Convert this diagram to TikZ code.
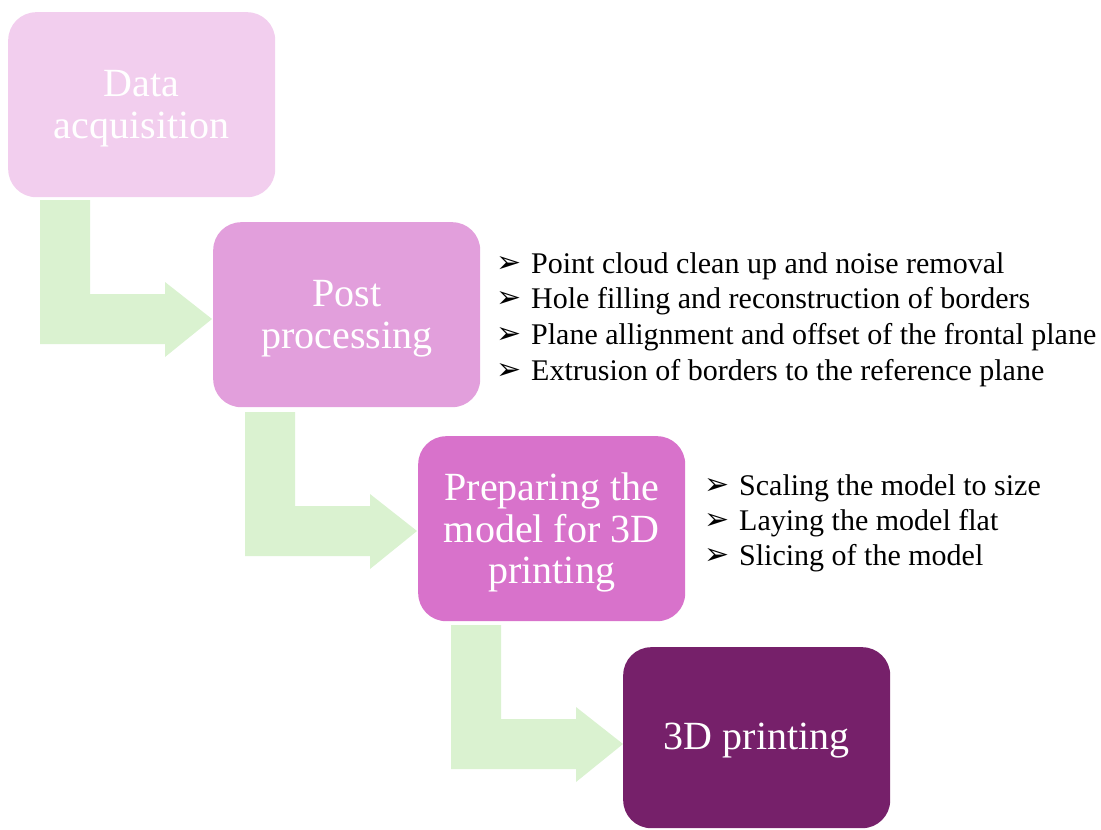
\documentclass[tikz,border=0pt]{standalone}
\usepackage{fontspec}
\setmainfont{Liberation Serif}
\newfontfamily\symfont{DejaVu Sans}
\definecolor{cA}{HTML}{F2CEEE}
\definecolor{cB}{HTML}{E29FDC}
\definecolor{cC}{HTML}{D872CB}
\definecolor{cD}{HTML}{76206A}
\definecolor{cArr}{HTML}{DAF2D0}
\newcommand{\bulmark}{\makebox[35pt][l]{\raisebox{1pt}{\symfont\fontsize{30}{30}\selectfont ➢}}}
\tikzset{
  stagebox/.style={rounded corners=28pt, minimum width=267pt, minimum height=185pt, inner sep=0pt},
  stagetext/.style={text=white, align=center, font=\fontsize{40}{41.5}\selectfont, inner sep=0pt},
  bulletline/.style={anchor=west, inner sep=0pt, font=\fontsize{30}{30}\selectfont},
  bentarrow/.pic={\fill[cArr] (0,0) -- (50,0) -- (50,94) -- (125,94) -- (125,82) -- (172,119)
      -- (125,157) -- (125,144) -- (0,144) -- cycle;}
}
\begin{document}
\begin{tikzpicture}[x=1pt,y=-1pt]
\useasboundingbox (0,0) rectangle (1101,830);
% stage boxes
\node[stagebox, fill=cA, anchor=north west] (s1) at (8,12) {};
\node[stagebox, fill=cB, anchor=north west] (s2) at (213,222) {};
\node[stagebox, fill=cC, anchor=north west] (s3) at (418,436) {};
\node[stagebox, fill=cD, anchor=north west, minimum height=181pt] (s4) at (623,647) {};
\node[stagetext] (t1) at ([yshift=-4pt]s1.center) {Data\\acquisition};
\node[stagetext] (t2) at ([yshift=-4pt]s2.center) {Post\\processing};
\node[stagetext] (t3) at ([yshift=-4pt]s3.center) {Preparing the\\model for 3D\\printing};
\node[stagetext] (t4) at ([yshift=-3pt]s4.center) {3D printing};
% bent arrows
\pic at (40,200) {bentarrow};
\pic at (245,412) {bentarrow};
\pic at (451,625) {bentarrow};
% bullet lists
\node[bulletline] (b1) at (496,266) {\bulmark Point cloud clean up and noise removal};
\node[bulletline] (b2) at (496,301) {\bulmark Hole filling and reconstruction of borders};
\node[bulletline] (b3) at (496,337) {\bulmark Plane allignment and offset of the frontal plane};
\node[bulletline] (b4) at (496,373) {\bulmark Extrusion of borders to the reference plane};
\node[bulletline] (c1) at (704,488) {\bulmark Scaling the model to size};
\node[bulletline] (c2) at (704,523) {\bulmark Laying the model flat};
\node[bulletline] (c3) at (704,558) {\bulmark Slicing of the model};
\end{tikzpicture}
\end{document}
